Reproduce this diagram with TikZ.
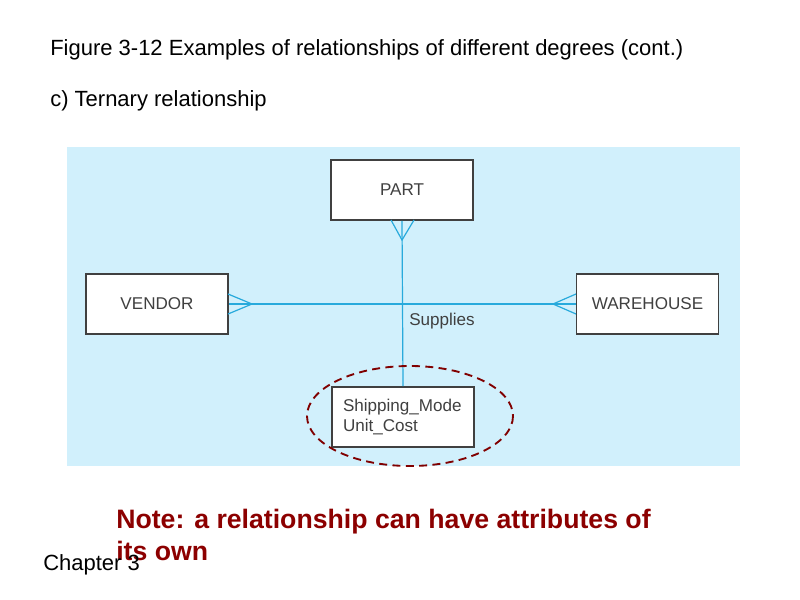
\documentclass[tikz,border=0pt]{standalone}
\usepackage{fontspec}
\setmainfont{Liberation Sans}
\definecolor{lnc}{RGB}{40,170,220}
\begin{document}
\begin{tikzpicture}[x=0.75pt,y=-0.75pt,
  ent/.style={draw=black!75,line width=1.2pt,fill=white,minimum width=142*0.75pt,minimum height=60*0.75pt,inner sep=0pt,font=\fontsize{12.8}{15}\selectfont\color{black!75}},
  ln/.style={draw=lnc,line width=0.9pt},
  txt/.style={anchor=west,inner sep=0pt}]
\useasboundingbox (0,0) rectangle (800,600);
\fill[cyan!18] (67,147) rectangle (740,466);
\node[txt,font=\fontsize{16.5}{19}\selectfont] (t1) at (50,50) {Figure 3-12 Examples of relationships of different degrees (cont.)};
\node[txt,font=\fontsize{16.5}{19}\selectfont] (t2) at (50,101) {c) Ternary relationship};
\node[ent] (part) at (402,190) {PART};
\node[ent] (vend) at (157,304) {VENDOR};
\node[ent] (ware) at (647.5,304) {WAREHOUSE};
\node[ent,align=left,text width=120*0.75pt] (attr) at (403,417) {Shipping\_Mode\\Unit\_Cost};
\draw[ln] (part.south) -- (attr.north);
\draw[ln] (vend.east) -- (ware.west);
\draw[ln] (391,220) -- (402,240) -- (414,220);
\draw[ln] (228,294) -- (252,304) -- (228,314);
\draw[ln] (576,294) -- (553,304) -- (576,314);
\node[txt,font=\fontsize{12.8}{15}\selectfont\color{black!75}] (sup) at (409,321) {Supplies};
\draw[red!50!black,line width=1.4pt,dash pattern=on 6pt off 4pt] (410,416) ellipse [x radius=103,y radius=50];
\node[txt,align=left,font=\bfseries\fontsize{20}{23.5}\selectfont\color{red!55!black}] (note) at (116,535) {Note: a relationship can have attributes of\\its own};
\node[txt,font=\fontsize{16.5}{19}\selectfont] (ch) at (43,565) {Chapter 3};
\end{tikzpicture}
\end{document}
